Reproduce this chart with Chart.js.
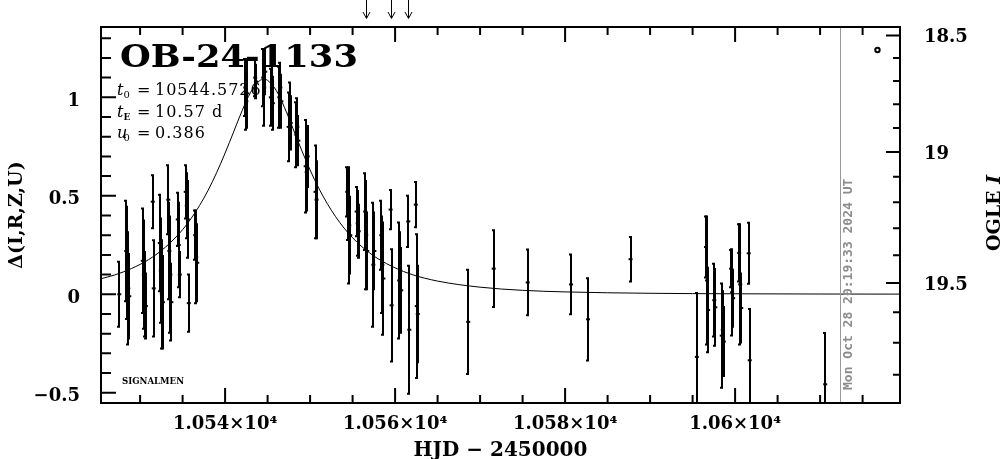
<!DOCTYPE html>
<html><head><meta charset="utf-8">
<script src="https://cdn.jsdelivr.net/npm/chart.js@4.4.1/dist/chart.umd.min.js"></script>
<style>html,body{margin:0;padding:0;background:#fff;}#wrap{width:1004px;height:459px;position:relative;}</style>
</head><body><div id="wrap"><canvas id="c"></canvas></div>
<script>
// ---------- data ----------
const obsT = [
 10527.55,
 10528.37,10528.49,10528.61,10528.73,
 10530.32,10530.44,10530.56,10530.68,
 10531.49,10531.61,
 10532.32,10532.44,10532.56,10532.68,
 10533.32,10533.44,10533.56,10533.68,
 10534.43,10534.55,10534.67,
 10535.37,10535.49,10535.61,10535.73,
 10536.48,10536.60,10536.72,
 10542.38,10542.50,10542.62,
 10543.54,10543.66,
 10544.48,10544.60,10544.72,
 10545.38,10545.50,10545.62,
 10546.38,10546.50,10546.62,
 10547.48,10547.60,10547.72,
 10548.38,10548.50,10548.62,
 10549.48,10549.60,10549.72,
 10550.64,10550.76,
 10554.37,10554.49,10554.61,10554.73,
 10555.48,10555.60,10555.72,
 10556.48,10556.60,10556.72,
 10557.44,10557.56,
 10558.38,10558.50,10558.62,
 10559.47,10559.59,
 10560.48,10560.60,10560.72,
 10561.55,10561.67,
 10562.43,10562.55,10562.67,
 10568.6, 10571.6, 10575.6, 10580.7, 10582.7, 10587.7,
 10595.5,
 10596.58,10596.70,10596.82,
 10597.55,10597.67,
 10598.43,10598.55,10598.67,
 10599.53,10599.65,10599.77,
 10600.48,10600.60,10600.72,
 10601.60,10601.72,
 10610.6
];
const obsDelta = [
 0.00,
 0.22,0.16,0.03,-0.01,
 0.17,0.10,0.00,-0.06,
 0.47,0.03,
 0.26,0.12,0.00,-0.04,
 0.48,0.22,0.10,-0.04,
 0.38,0.25,0.10,
 0.52,0.45,0.38,-0.045,
 0.30,0.19,0.16,
 1.05,0.98,1.02,
 1.10,1.08,
 1.10,1.05,1.13,
 1.00,1.05,0.97,
 1.00,1.05,0.98,
 0.85,0.92,0.87,
 0.81,0.85,0.78,
 0.65,0.62,0.70,
 0.52,0.48,
 0.52,0.45,0.35,0.30,
 0.42,0.36,0.32,
 0.42,0.30,0.22,
 0.15,0.22,
 0.30,0.15,0.08,
 0.43,-0.056,
 0.07,0.12,0.02,
 0.37,-0.18,
 0.455,-0.06,-0.10,
 -0.14, 0.13, 0.06, 0.05, -0.127, 0.178,
 -0.318,
 0.24,0.07,-0.08,
 -0.03,-0.066,
 -0.21,-0.18,-0.24,
 0.13,0.01,-0.02,
 0.21,0.05,-0.07,
 0.208,-0.335,
 -0.457
];
const obsErr = [
 0.17,
 0.26,0.29,0.29,0.22,
 0.27,0.28,0.22,0.17,
 0.14,0.25,
 0.25,0.27,0.28,0.24,
 0.18,0.25,0.30,0.20,
 0.14,0.22,0.12,
 0.14,0.17,0.20,0.15,
 0.13,0.24,0.20,
 0.15,0.15,0.18,
 0.10,0.09,
 0.15,0.20,0.12,
 0.15,0.18,0.14,
 0.16,0.13,0.14,
 0.18,0.16,0.14,
 0.17,0.15,0.13,
 0.24,0.20,0.16,
 0.24,0.20,
 0.13,0.18,0.30,0.20,
 0.13,0.17,0.14,
 0.20,0.28,0.20,
 0.32,0.20,
 0.18,0.25,0.29,
 0.105,0.29,
 0.30,0.20,0.22,
 0.135,0.33,
 0.12,0.37,0.25,
 0.27, 0.20, 0.172, 0.157, 0.214, 0.118,
 0.33,
 0.16,0.33,0.22,
 0.19,0.20,
 0.27,0.20,0.18,
 0.10,0.224,0.15,
 0.15,0.31,0.18,
 0.16,0.265,
 0.265
];
// model light curve (t0 = 10544.5726, tE = 10.57 d, u0 = 0.386)
const modelT = [10525.4,10527,10529,10531,10533,10535,10536,10537,10538,10539,10540,10541,10542,10543,10544,10544.57,10545,10546,10547,10548,10549,10550,10551,10552,10553,10554,10555,10556,10557,10558,10560,10562,10565,10570,10575,10580,10590,10600,10610,10619.4];
const modelDelta = [0.079,0.098,0.131,0.176,0.240,0.328,0.385,0.451,0.528,0.617,0.717,0.824,0.932,1.025,1.082,1.092,1.086,1.036,0.947,0.840,0.732,0.631,0.540,0.462,0.394,0.336,0.287,0.245,0.210,0.180,0.134,0.100,0.067,0.036,0.020,0.012,0.005,0.0025,0.0013,0.0008];

const xMin = 10525.4, xMax = 10619.4;
const yMin = -0.552, yMax = 1.357;
const xTickValues = [10540,10560,10580,10600];
const xTickLabels = ['1.054×10⁴','1.056×10⁴','1.058×10⁴','1.06×10⁴'];
const yTickValues = [-0.5,0,0.5,1];
const yTickLabels = ['−0.5','0','0.5','1'];
const ogleMajorMags = [18.5,19,19.5];
const ogleMajorLabels = ['18.5','19','19.5'];
const ogleMinorMags = [18.6,18.7,18.8,18.9,19.1,19.2,19.3,19.4,19.6,19.7,19.8];
const ogleBase = 19.539, ogleFs = 0.681;   // baseline OGLE I mag and source fraction for the right axis
const arrowT = [10556.6,10559.53,10561.55];
const nowT = 10612.35;
const nowLabel = 'Mon Oct 28 20:19:33 2024 UT';
const markerT = 10616.75, markerDelta = 1.24;
const eventName = 'OB-24-1133';
const paramLines = [['t','0','10544.5726'],['t','E','10.57 d'],['u','0','0.386']];
const surveyName = 'SIGNALMEN';

function deltaFromMag(m){ const f = Math.pow(10,-0.4*(m-ogleBase)); return 2.5*Math.log10((f-1)/ogleFs+1); }

const SERIF = '"DejaVu Serif", serif';

const framePlugin = {
  id:'frame',
  afterDatasetsDraw(chart){
    const {ctx, chartArea:a, scales:{x,y}} = chart;
    ctx.save();
    ctx.beginPath(); ctx.rect(a.left,a.top,a.right-a.left,a.bottom-a.top); ctx.clip();
    ctx.strokeStyle='#000'; ctx.lineWidth=2;
    for(let i=0;i<obsT.length;i++){
      const px = Math.round(x.getPixelForValue(obsT[i]));
      const pt = y.getPixelForValue(obsDelta[i]+obsErr[i]);
      const pb = y.getPixelForValue(obsDelta[i]-obsErr[i]);
      ctx.beginPath();
      ctx.moveTo(px,pt); ctx.lineTo(px,pb);
      ctx.moveTo(px-2,pt+1); ctx.lineTo(px+1,pt+1);
      ctx.moveTo(px-2,pb-1); ctx.lineTo(px+1,pb-1);
      ctx.stroke();
    }
    ctx.restore();
  },
  afterDraw(chart){
    const {ctx, chartArea:a, scales:{x,y}} = chart;
    ctx.save();
    // "now" line
    const nx = Math.round(x.getPixelForValue(nowT))+0.5;
    ctx.strokeStyle='#999'; ctx.lineWidth=1;
    ctx.beginPath(); ctx.moveTo(nx,a.top); ctx.lineTo(nx,a.bottom); ctx.stroke();
    ctx.save();
    ctx.translate(nx+8, a.bottom-13); ctx.rotate(-Math.PI/2);
    ctx.fillStyle='#8c8c8c'; ctx.font='bold 13px "DejaVu Sans Mono", monospace';
    ctx.textAlign='left'; ctx.textBaseline='middle';
    ctx.fillText(nowLabel,0,0);
    ctx.restore();
    // frame
    ctx.strokeStyle='#000'; ctx.lineWidth=2;
    ctx.strokeRect(a.left,a.top,a.right-a.left,a.bottom-a.top);
    ctx.beginPath();
    for(let v=10530; v<=xMax; v+=5){
      const px = x.getPixelForValue(v); const len = (v%20===0)?15:8;
      ctx.moveTo(px,a.bottom); ctx.lineTo(px,a.bottom-len);
      ctx.moveTo(px,a.top); ctx.lineTo(px,a.top+len);
    }
    for(let k=-5;k<=13;k++){
      const py = y.getPixelForValue(k/10); const len=(k%5===0)?15:10;
      ctx.moveTo(a.left,py); ctx.lineTo(a.left+len,py);
    }
    ogleMajorMags.forEach(m=>{const py=y.getPixelForValue(deltaFromMag(m)); ctx.moveTo(a.right,py); ctx.lineTo(a.right-14,py);});
    ogleMinorMags.forEach(m=>{const py=y.getPixelForValue(deltaFromMag(m)); ctx.moveTo(a.right,py); ctx.lineTo(a.right-7,py);});
    ctx.stroke();
    // arrows above the frame
    ctx.lineWidth=1;
    arrowT.forEach(t=>{
      const px = Math.round(x.getPixelForValue(t))+0.5;
      ctx.beginPath(); ctx.moveTo(px,0); ctx.lineTo(px,18);
      ctx.moveTo(px-3.5,12); ctx.lineTo(px,18.5); ctx.lineTo(px+3.5,12); ctx.stroke();
    });
    // marker circle
    ctx.lineWidth=2;
    ctx.beginPath(); ctx.arc(x.getPixelForValue(markerT), y.getPixelForValue(markerDelta), 2.2, 0, 2*Math.PI); ctx.stroke();
    // event name
    ctx.fillStyle='#000';
    ctx.font='bold 31px '+SERIF; ctx.textAlign='left'; ctx.textBaseline='alphabetic';
    const w = ctx.measureText(eventName).width;
    ctx.save(); ctx.translate(120,67); ctx.scale(238/w,1); ctx.fillText(eventName,0,0); ctx.restore();
    // parameters
    const base=[95,117,138];
    paramLines.forEach((p,i)=>{
      const by=base[i];
      ctx.font='italic 16px '+SERIF; ctx.fillText(p[0],117,by);
      ctx.font=(p[1]==='E'?'bold 9px ':'10px ')+SERIF; ctx.fillText(p[1],123.5,by+3);
      ctx.font='16px '+SERIF; ctx.fillText('=',137,by);
      ctx.save(); ctx.letterSpacing='1px'; ctx.fillText(p[2],155,by); ctx.restore();
    });
    // survey
    ctx.font='bold 9px '+SERIF; 
    const sw = ctx.measureText(surveyName).width;
    ctx.save(); ctx.translate(122,384); ctx.scale(62/sw,1); ctx.fillText(surveyName,0,0); ctx.restore();
    // right axis title
    ctx.save(); ctx.translate(995,213); ctx.rotate(-Math.PI/2);
    ctx.textBaseline='middle';
    ctx.font='bold 19px '+SERIF; const w1 = ctx.measureText('OGLE ').width;
    ctx.font='bold italic 19px '+SERIF; const w2 = ctx.measureText('I').width;
    ctx.textAlign='left';
    ctx.font='bold 19px '+SERIF; ctx.fillText('OGLE ',-(w1+w2)/2,0);
    ctx.font='bold italic 19px '+SERIF; ctx.fillText('I',-(w1+w2)/2+w1,0);
    ctx.restore();
    ctx.restore();
  }
};

const tickFont = {family:'DejaVu Serif', size:18, weight:'bold'};
new Chart(document.getElementById('c'), {
  type:'scatter',
  data:{datasets:[
    {label:'model', type:'line', data:modelT.map((t,i)=>({x:t,y:modelDelta[i]})), borderColor:'#000', borderWidth:1, pointRadius:0, cubicInterpolationMode:'monotone', fill:false},
    {label:'data', data:obsT.map((t,i)=>({x:t,y:obsDelta[i]})), pointStyle:'line', pointRadius:2, borderColor:'#000', backgroundColor:'#000', borderWidth:2}
  ]},
  options:{
    responsive:true, maintainAspectRatio:false, animation:false,
    layout:{padding:{top:27,left:0,right:0,bottom:0}},
    plugins:{legend:{display:false}, tooltip:{enabled:false}},
    scales:{
      x:{type:'linear', position:'bottom', min:xMin, max:xMax,
        grid:{display:false}, border:{display:false},
        afterBuildTicks:s=>{s.ticks = xTickValues.map(v=>({value:v}));},
        afterFit:s=>{s.height=56;},
        ticks:{callback:(v,i)=>xTickLabels[i], font:tickFont, color:'#000', padding:3, maxRotation:0, autoSkip:false},
        title:{display:true, text:'HJD − 2450000', color:'#000', font:{family:'DejaVu Serif', size:20, weight:'bold', lineHeight:0.8}, padding:{top:0,bottom:0}}
      },
      y:{type:'linear', position:'left', min:yMin, max:yMax,
        grid:{display:false}, border:{display:false},
        afterBuildTicks:s=>{s.ticks = yTickValues.map(v=>({value:v}));},
        afterFit:s=>{s.width=101;},
        ticks:{callback:(v,i)=>yTickLabels[i], font:tickFont, color:'#000', padding:13, labelOffset:4},
        title:{display:true, text:'Δ(I,R,Z,U)', color:'#000', font:{family:'DejaVu Serif', size:19, weight:'bold', lineHeight:1}, padding:{top:8,bottom:0}}
      },
      y2:{type:'linear', position:'right', min:yMin, max:yMax,
        grid:{display:false}, border:{display:false},
        afterBuildTicks:s=>{s.ticks = ogleMajorMags.map(m=>({value:deltaFromMag(m)}));},
        afterFit:s=>{s.width=104;},
        ticks:{callback:(v,i)=>ogleMajorLabels[i], font:tickFont, color:'#000', padding:16, labelOffset:2}
      }
    }
  },
  plugins:[framePlugin]
});
</script></body></html>
